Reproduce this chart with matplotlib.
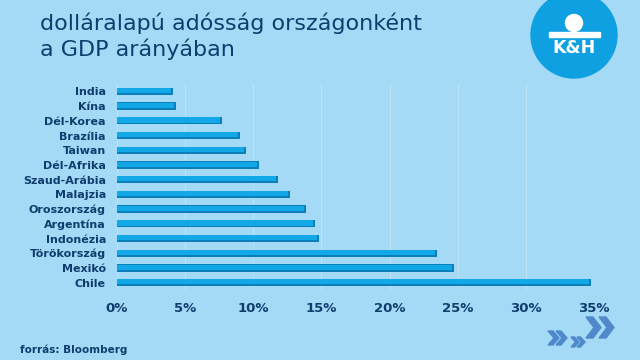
import matplotlib.pyplot as plt
from matplotlib.patches import Ellipse, Polygon, Rectangle

# data (share of GDP, %)
countries = ["India", "Kína", "Dél-Korea", "Brazília", "Taiwan", "Dél-Afrika",
             "Szaud-Arábia", "Malajzia", "Oroszország", "Argentína", "Indonézia",
             "Törökország", "Mexikó", "Chile"]
values = [4.1, 4.3, 7.7, 9.0, 9.5, 10.4, 11.8, 12.7, 13.9, 14.5, 14.8, 23.5, 24.7, 34.8]
ticks = [0, 5, 10, 15, 20, 25, 30, 35]
tick_labels = ["0%", "5%", "10%", "15%", "20%", "25%", "30%", "35%"]

bg = "#a4daf6"
navy = "#0f3d6e"
bar_light = "#12a7e6"
bar_dark = "#0b7fba"

W, H = 640, 360
fig = plt.figure(figsize=(6.4, 3.6), dpi=100, facecolor=bg)

# axes placed by pixel box
def px_box(x0, y0, x1, y1):
    return [x0 / W, 1 - y1 / H, (x1 - x0) / W, (y1 - y0) / H]

def fpx(x, y):
    return (x / W, 1 - y / H)

ax = fig.add_axes(px_box(117, 84, 594, 290))
ax.set_facecolor(bg)
ax.set_xlim(0, 35)
ax.set_ylim(len(countries) - 0.5, -0.5)

pos = list(range(len(countries)))
for t in ticks:
    ax.axvline(t, color="white", lw=0.6, alpha=0.3, zorder=0)

# pseudo 3d bars: dark body, lighter top face
ax.barh(pos, values, height=0.5, color=bar_dark, zorder=2)
ax.barh([p - 0.05 for p in pos], [v - 0.15 for v in values], height=0.35,
        color=bar_light, zorder=3)

ax.set_yticks(pos)
ax.set_yticklabels(countries, fontsize=8, fontweight="bold", color=navy)
ax.set_xticks(ticks)
ax.set_xticklabels(tick_labels, fontsize=9.5, fontweight="bold", color=navy)
ax.tick_params(length=0, axis="y", pad=8)
ax.tick_params(length=0, axis="x", pad=9)
for s in ax.spines.values():
    s.set_visible(False)

# title
fig.text(40 / W, 1 - 30 / H, "dolláralapú adósság országonként", fontsize=16,
         color=navy, va="baseline")
fig.text(40 / W, 1 - 56 / H, "a GDP arányában", fontsize=16,
         color=navy, va="baseline")

# footer
fig.text(20 / W, 1 - 353 / H, "forrás: Bloomberg", fontsize=7.5,
         fontweight="bold", color=navy, va="baseline")

# logo
fig.patches.append(Ellipse(fpx(574, 35), 86 / W, 86 / H, transform=fig.transFigure,
                           color="#0ea0e0", zorder=5))
fig.patches.append(Ellipse(fpx(574, 23), 17 / W, 17 / H, transform=fig.transFigure,
                           color="white", zorder=6))
fig.patches.append(Rectangle(fpx(549, 37), 51 / W, 5 / H, transform=fig.transFigure,
                             color="white", zorder=6))
fig.text(574 / W, 1 - 48 / H, "K&H", fontsize=12.5, fontweight="bold",
         color="white", ha="center", va="center", zorder=7)

# chevrons
chev = "#4f89cc"
def chevron(x, y, w, h, t):
    pts = [(x, y), (x + t, y), (x + w, y + h / 2), (x + t, y + h), (x, y + h),
           (x + w - t, y + h / 2)]
    fig.patches.append(Polygon([fpx(a, b) for a, b in pts], closed=True,
                               transform=fig.transFigure, color=chev, zorder=5))

chevron(586, 317, 15, 21, 7)
chevron(599, 317, 15, 21, 7)
chevron(548, 331, 11, 14, 5)
chevron(556, 331, 11, 14, 5)
chevron(571, 337, 8, 10, 3.5)
chevron(577, 337, 8, 10, 3.5)

fig.savefig("out.png", dpi=100, facecolor=bg)
